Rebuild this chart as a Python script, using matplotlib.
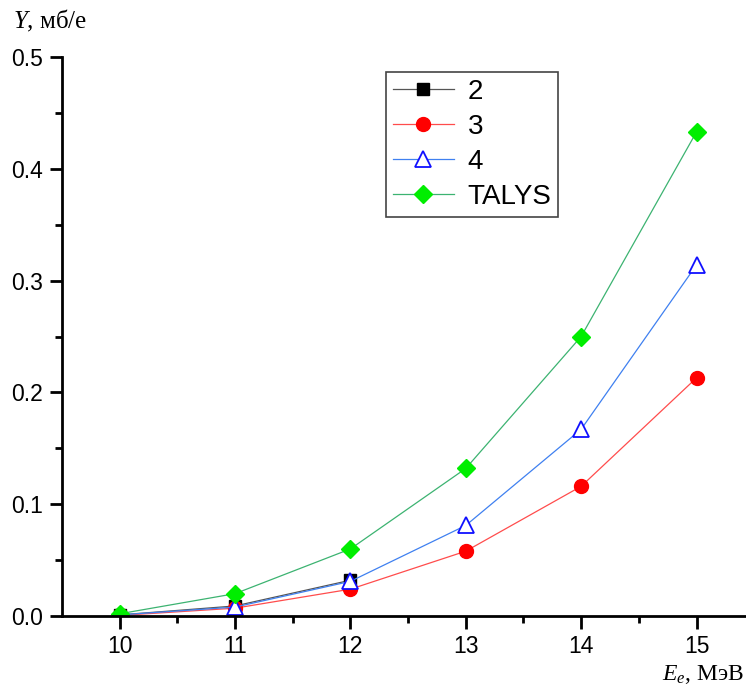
import matplotlib.pyplot as plt
import numpy as np

# data
e_2 = [10, 11, 12]
y_2 = [0.001, 0.009, 0.032]
e_3 = [10, 11, 12, 13, 14, 15]
y_3 = [0.0005, 0.007, 0.024, 0.058, 0.116, 0.213]
e_4 = [10, 11, 12, 13, 14, 15]
y_4 = [0.001, 0.008, 0.031, 0.081, 0.167, 0.314]
e_talys = [10, 11, 12, 13, 14, 15]
y_talys = [0.002, 0.020, 0.060, 0.132, 0.250, 0.433]

plt.rcParams['font.family'] = ['Liberation Sans', 'DejaVu Sans']
plt.rcParams['mathtext.fontset'] = 'custom'
plt.rcParams['mathtext.it'] = 'Liberation Serif:italic'
plt.rcParams['mathtext.rm'] = 'Liberation Serif'

fig = plt.figure(figsize=(7.46, 6.92), dpi=100)
ax = fig.add_axes([0.0831, 0.1098, 0.9155, 0.8078])

ax.plot(e_2, y_2, '-', color='#555555', lw=0.9, marker='s', ms=9,
        mfc='black', mec='black', label='2')
ax.plot(e_3, y_3, '-', color='#ff4c4c', lw=0.9, marker='o', ms=10,
        mfc='#ff0000', mec='#ff0000', label='3')
ax.plot(e_4, y_4, '-', color='#3f80f0', lw=0.9, marker='^', ms=11,
        mfc='white', mec='#1010ff', mew=1.3, label='4')
ax.plot(e_talys, y_talys, '-', color='#3cb371', lw=0.9, marker='D', ms=9,
        mfc='#00ee00', mec='#00ee00', label='TALYS')

ax.set_xlim(9.5, 15.42)
ax.set_ylim(0, 0.5)
ax.set_xticks([10, 11, 12, 13, 14, 15])
ax.set_xticks(np.arange(10.5, 15.0, 1.0), minor=True)
ax.set_yticks([0.0, 0.1, 0.2, 0.3, 0.4, 0.5])
ax.set_yticks(np.arange(0.05, 0.5, 0.1), minor=True)
ax.set_yticklabels(['0.0', '0.1', '0.2', '0.3', '0.4', '0.5'])

for s in ['top', 'right']:
    ax.spines[s].set_visible(False)
for s in ['left', 'bottom']:
    ax.spines[s].set_linewidth(2)
ax.tick_params(which='major', length=9, width=2, labelsize=16.5, direction='out')
ax.tick_params(which='minor', length=5, width=2, direction='out')
ax.tick_params(axis='x', pad=5)
ax.tick_params(axis='y', pad=5)

fig.text(0.0175, 0.9595, '$Y$, мб/е', fontsize=18, family='Liberation Serif',
         va='baseline')
fig.text(0.998, 0.018, r'$E_e$, МэВ', fontsize=17, family='Liberation Serif',
         ha='right', va='baseline')

leg = ax.legend(loc='upper left', bbox_to_anchor=(0.474, 0.973), fontsize=20,
                fancybox=False, edgecolor='#444444', framealpha=1,
                handlelength=2.2, handletextpad=0.5, borderpad=0.25,
                labelspacing=0.32, borderaxespad=0)
leg.get_frame().set_linewidth(1.2)

plt.savefig('out.png', dpi=100)
